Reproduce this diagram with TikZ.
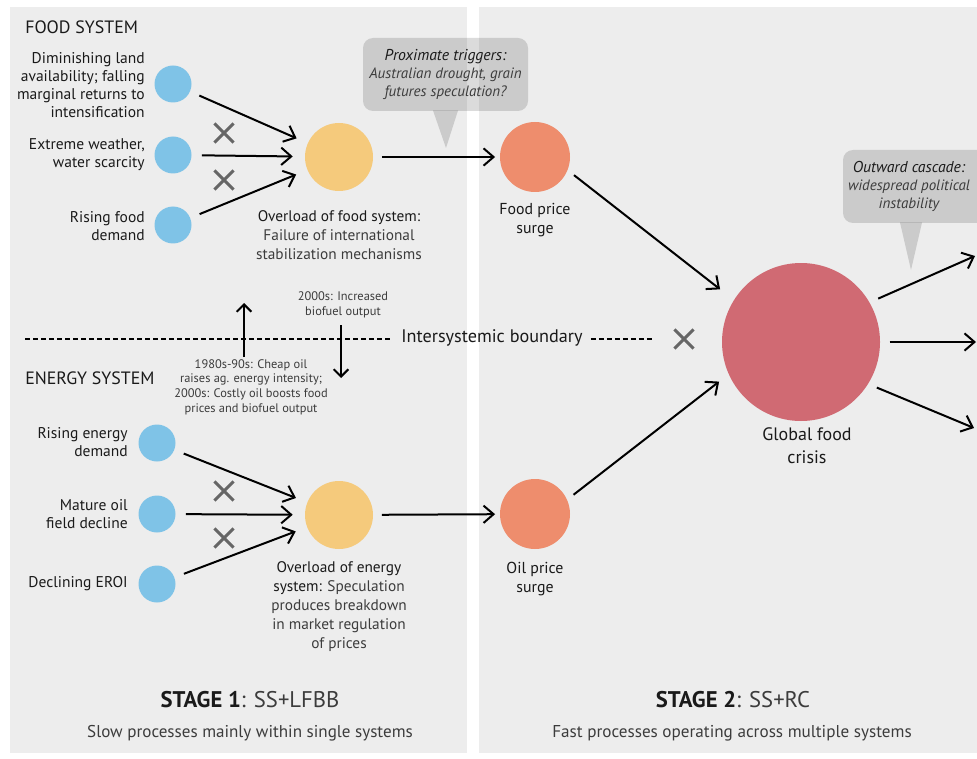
\documentclass[tikz,border=0pt]{standalone}
\usepackage{fontspec}
\setmainfont{PT Sans}
\usetikzlibrary{arrows.meta,shapes.misc,calc}
\definecolor{panel}{HTML}{EDEDED}
\definecolor{cblue}{HTML}{7FC3E7}
\definecolor{cyellow}{HTML}{F5CA7C}
\definecolor{corange}{HTML}{EE8D6D}
\definecolor{cred}{HTML}{D06A73}
\definecolor{xgray}{HTML}{666666}
\definecolor{callgray}{HTML}{CBCBCB}
\definecolor{darktext}{HTML}{1A1A1A}
\definecolor{lighttext}{HTML}{3C3C3C}
\begin{document}
\begin{tikzpicture}[x=0.75pt,y=-0.75pt,
  dot/.style={circle, inner sep=0pt, draw=none},
  bluedot/.style={dot, fill=cblue, minimum size=27.75pt},
  yellowdot/.style={dot, fill=cyellow, minimum size=51pt},
  orangedot/.style={dot, fill=corange, minimum size=52.5pt},
  reddot/.style={dot, fill=cred, minimum size=118.5pt},
  conn/.style={draw=black, line width=1.5pt, -{Straight Barb[length=7.5pt,width=13pt]}},
  xmark/.style={cross out, draw=xgray, line width=2.3pt, minimum size=12pt, inner sep=0pt},
  inlabel/.style={align=right, anchor=east, inner sep=0pt, text=darktext, font=\fontsize{11.65}{13.7}\selectfont},
  desc/.style={align=center, anchor=north, inner sep=0pt, text=lighttext, font=\fontsize{11.5}{14.3}\selectfont},
  small/.style={align=center, inner sep=0pt, text=lighttext, font=\fontsize{9.3}{11}\selectfont},
  systitle/.style={anchor=west, inner sep=0pt, text=darktext, font=\fontsize{13.4}{15}\selectfont},
  callout/.style={fill=black, fill opacity=0.14, text opacity=1, rounded corners=7.5pt, inner sep=0pt, align=center, font=\fontsize{11.25}{13.6}\selectfont\itshape, text=lighttext},
  bline/.style={draw=black, line width=1pt, dash pattern=on 3.5pt off 2.5pt}
]
\useasboundingbox (0,0) rectangle (977,759);
\fill[white] (0,0) rectangle (977,759);
\fill[panel] (10,7) rectangle (467,753);
\fill[panel] (479,7) rectangle (977,753);

% titles
\node[systitle] (ft) at (25,27) {FOOD SYSTEM};
\node[systitle] (et) at (25,378) {ENERGY SYSTEM};

% food inputs
\node[bluedot] (f1) at (173,84) {};
\node[bluedot] (f2) at (173,155) {};
\node[bluedot] (f3) at (173,225) {};
\node[inlabel] (lf1) at (145,85) {Diminishing land\\availability; falling\\marginal returns to\\intensification};
\node[inlabel] (lf2) at (145,155) {Extreme weather,\\water scarcity};
\node[inlabel] (lf3) at (145,226) {Rising food\\demand};

% energy inputs
\node[bluedot] (e1) at (157,443) {};
\node[bluedot] (e2) at (157,514) {};
\node[bluedot] (e3) at (157,584) {};
\node[inlabel] (le1) at (128,442) {Rising energy\\demand};
\node[inlabel] (le2) at (128,514) {Mature oil\\field decline};
\node[inlabel] (le3) at (128,584) {Declining EROI};

% overload nodes
\node[yellowdot] (fy) at (339,157) {};
\node[yellowdot] (ey) at (339,515) {};
\node[desc] (fyl) at (339,210) {\textcolor{darktext}{Overload of food system:}\\Failure of international\\stabilization mechanisms};
\node[desc] (eyl) at (339,561) {\textcolor{darktext}{Overload of energy}\\\textcolor{darktext}{system:} Speculation\\produces breakdown\\in market regulation\\of prices};

% price surges
\node[orangedot] (fp) at (535,157) {};
\node[orangedot] (op) at (535,514) {};
\node[desc, anchor=center, text=darktext, font=\fontsize{11.9}{14.3}\selectfont] (fpl) at (535,220) {Food price\\surge};
\node[desc, anchor=center, text=darktext, font=\fontsize{11.9}{14.3}\selectfont] (opl) at (535,579) {Oil price\\surge};

% global crisis
\node[reddot] (gc) at (801,342) {};
\node[align=center, inner sep=0pt, text=darktext, font=\fontsize{13.5}{17.2}\selectfont] (gcl) at (807,446) {Global food\\crisis};

% input arrows
\foreach \s in {f1,f2,f3} \draw[conn, shorten <=7.5pt, shorten >=9pt] (\s) -- (fy);
\foreach \s in {e1,e2,e3} \draw[conn, shorten <=7.5pt, shorten >=9pt] (\s) -- (ey);
\draw[conn, shorten <=6.5pt, shorten >=3.5pt] (fy) -- (fp);
\draw[conn, shorten <=6.5pt, shorten >=3.5pt] (ey) -- (op);
\draw[conn, shorten <=6pt, shorten >=13pt] (fp.-22) -- (gc.148);
\draw[conn, shorten <=6pt, shorten >=9pt] (op.24) -- (gc.204);

% outward arrows
\coordinate (o1) at (975,256);
\coordinate (o2) at (976,342);
\coordinate (o3) at (974,428);
\draw[conn, shorten <=7pt] (gc.30) -- (o1);
\draw[conn, shorten <=7pt] (gc.0) -- (o2);
\draw[conn, shorten <=7pt] (gc.-32) -- (o3);

% X marks
\node[xmark] (x1) at (224,133) {};
\node[xmark] (x2) at (224,180) {};
\node[xmark] (x3) at (224,491) {};
\node[xmark] (x4) at (224,538) {};
\node[xmark] (x5) at (684,339) {};

% boundary
\node[inner sep=0pt, text=darktext, font=\fontsize{13.65}{15}\selectfont] (bnd) at (492,338) {Intersystemic boundary};
\coordinate (bl) at (25,339);
\coordinate (br) at (653,339);
\draw[bline, shorten >=8pt] (bl) -- (bl -| bnd.west);
\draw[bline, shorten <=6pt] (br -| bnd.east) -- (br);

% vertical influence arrows
\coordinate (ua1) at (244,357);
\coordinate (ua2) at (244,303);
\coordinate (da1) at (341,325);
\coordinate (da2) at (341,378);
\draw[line width=1.5pt, -{Straight Barb[length=5.5pt,width=11pt]}] (ua1) -- (ua2);
\draw[line width=1.5pt, -{Straight Barb[length=5.5pt,width=11pt]}] (da1) -- (da2);
\node[small] (t2000) at (343,305) {2000s: Increased\\biofuel output};
\node[small] (t1980) at (251,387) {1980s-90s: Cheap oil\\raises ag. energy intensity;\\2000s: Costly oil boosts food\\prices and biofuel output};

% callouts
\fill[callgray] (433,110.5) -- (446,148) -- (458,110.5) -- cycle;
\node[callout, minimum width=123.75pt, minimum height=54.75pt] (c1) at (445.5,74.5) {\textcolor{darktext}{\fontsize{11.8}{13.6}\selectfont Proximate triggers:}\\Australian drought, grain\\futures speculation?};
\fill[callgray] (900,222.5) -- (911,270) -- (922,222.5) -- cycle;
\node[callout, minimum width=108pt, minimum height=54.75pt] (c2) at (915,186.5) {\hspace*{-9pt}\textcolor{darktext}{\fontsize{11.8}{13.6}\selectfont Outward cascade:}\\\hspace*{-9pt}widespread political\\\hspace*{-9pt}instability};

% stages
\node[inner sep=0pt, font=\fontsize{17}{19}\selectfont] (s1) at (250,700) {\textcolor{darktext}{\bfseries STAGE 1}\textcolor{lighttext}{: SS+LFBB}};
\node[inner sep=0pt, text=lighttext, font=\fontsize{12.8}{14}\selectfont] (s1b) at (250,733) {Slow processes mainly within single systems};
\node[inner sep=0pt, font=\fontsize{17}{19}\selectfont] (s2) at (733,700) {\textcolor{darktext}{\bfseries STAGE 2}\textcolor{lighttext}{: SS+RC}};
\node[inner sep=0pt, text=lighttext, font=\fontsize{12.85}{14}\selectfont] (s2b) at (732,733) {Fast processes operating across multiple systems};
\end{tikzpicture}
\end{document}
